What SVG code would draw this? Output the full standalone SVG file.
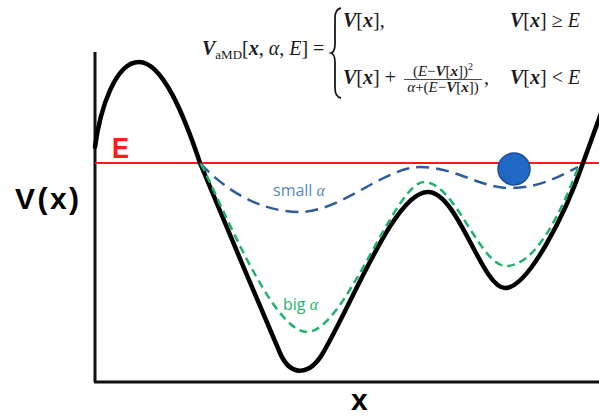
<svg xmlns="http://www.w3.org/2000/svg" width="599" height="419" viewBox="0 0 599 419">
  <style>
    .axis { stroke: #111; stroke-width: 3; fill: none; }
    .pot { stroke: #000; stroke-width: 4.5; fill: none; stroke-linejoin: round; stroke-linecap: round; }
    .small { stroke: #2e5c9c; stroke-width: 2.5; fill: none; stroke-dasharray: 13 7; }
    .big { stroke: #20b26c; stroke-width: 2.5; fill: none; stroke-dasharray: 8 5; }
    .math { font-family: "Liberation Serif", "DejaVu Serif", serif; fill: #1a1a1a; }
    .bi { font-weight: bold; font-style: italic; }
    .it { font-style: italic; }
    .lab { font-family: "Liberation Sans", Arial, sans-serif; font-weight: bold; }
    .crv { font-family: "Open Sans", "Liberation Sans", sans-serif; font-size: 16px; }
  </style>
  <rect width="599" height="419" fill="#fff"/>

  <g id="axes">
    <line class="axis" x1="95" y1="52" x2="95" y2="382"/>
    <line class="axis" x1="94" y1="382" x2="599" y2="382"/>
  </g>

  <g id="energy-line">
    <line x1="95" y1="163" x2="599" y2="163" stroke="#ff1a1a" stroke-width="2"/>
  </g>

  <g id="potential">
    <path class="pot" d="M95,147 C100,110 115,62 139,62 C163,62 185,118 200,163 C213,195 265,318 280,353 C291,378 310,375 323,353 C355,298 395,192 428,192 C458,192 482,288 505,288 C528,288 565,215 583,163 L604,105"/>
  </g>

  <g id="curves">
    <path class="small" d="M200,163 C225,190 260,212 300,212 C340,212 385,167 420,167 C455,167 480,188 510,188 C540,188 560,176 578,167"/>
    <path class="big" d="M201,164 C220,200 272,332 307,332 C345,332 395,182 424,182 C455,182 480,266 506,266 C535,266 560,215 578,168"/>
  </g>

  <g id="ball">
    <circle cx="514" cy="169" r="16" fill="#1f68c6" stroke="#1a4d94" stroke-width="1.5"/>
  </g>

  <g id="labels">
    <text class="lab" x="112" y="158" font-size="29" fill="#ff1a1a" textLength="17" lengthAdjust="spacingAndGlyphs">E</text>
    <text class="lab" x="15" y="209" font-size="30" fill="#000" textLength="64">V(x)</text>
    <text class="lab" x="351" y="410" font-size="30" fill="#000">x</text>
    <text class="crv" x="273" y="196" fill="#5a86c4">small <tspan font-family="Liberation Serif, serif" font-style="italic">α</tspan></text>
    <text class="crv" x="283" y="310" fill="#1fb36b">big <tspan font-family="Liberation Serif, serif" font-style="italic">α</tspan></text>
  </g>

  <g id="formula" class="math">
    <text x="202" y="55" font-size="20"><tspan class="bi">V</tspan><tspan font-size="13" dy="4">aMD</tspan><tspan dy="-4">[</tspan><tspan class="bi">x</tspan>, <tspan class="it">α</tspan>, <tspan class="it">E</tspan>] =</text>
    <path d="M341,8 C336,9 335,13 335,18 L335,44 C335,49 334,52 331,53 C334,54 335,57 335,62 L335,88 C335,93 336,97 341,98" fill="none" stroke="#1a1a1a" stroke-width="1.8"/>
    <text x="343" y="27" font-size="20"><tspan class="bi">V</tspan>[<tspan class="bi">x</tspan>],</text>
    <text x="510" y="27" font-size="20"><tspan class="bi">V</tspan>[<tspan class="bi">x</tspan>] ≥ <tspan class="it">E</tspan></text>
    <text x="343" y="84" font-size="20"><tspan class="bi">V</tspan>[<tspan class="bi">x</tspan>] +</text>
    <text x="443" y="76" font-size="15" text-anchor="middle">(<tspan class="it">E</tspan>−<tspan class="bi">V</tspan>[<tspan class="bi">x</tspan>])<tspan font-size="10" dy="-6">2</tspan></text>
    <line x1="404" y1="79.5" x2="482" y2="79.5" stroke="#1a1a1a" stroke-width="0.8"/>
    <text x="443" y="92" font-size="15" text-anchor="middle"><tspan class="it">α</tspan>+(<tspan class="it">E</tspan>−<tspan class="bi">V</tspan>[<tspan class="bi">x</tspan>])</text>
    <text x="484" y="84" font-size="20">,</text>
    <text x="510" y="84" font-size="20"><tspan class="bi">V</tspan>[<tspan class="bi">x</tspan>] &lt; <tspan class="it">E</tspan></text>
  </g>
</svg>
